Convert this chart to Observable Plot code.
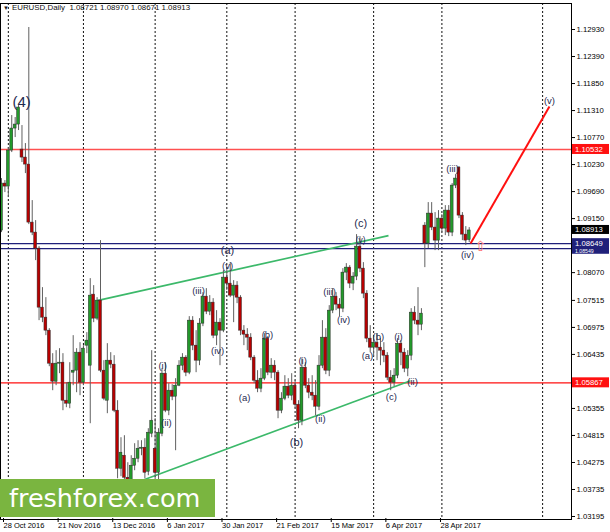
<!DOCTYPE html>
<html><head><meta charset="utf-8">
<script src="https://cdn.jsdelivr.net/npm/d3@7"></script>
<script src="https://cdn.jsdelivr.net/npm/@observablehq/plot@0.6"></script>
<style>
html,body{margin:0;padding:0;background:#fff;}
#wrap{position:relative;width:610px;height:532px;overflow:hidden;font-family:"Liberation Sans",Arial,sans-serif;}
#hdr{position:absolute;left:3px;top:3px;font-size:7.9px;color:#111;white-space:pre;line-height:10px;}
#hdr .tri{font-size:6px;margin-right:3px;}
#logo{position:absolute;left:0;top:479px;width:215px;height:38px;background:#7ab540;color:#fff;font-family:"DejaVu Sans",sans-serif;font-size:25.5px;line-height:38px;text-indent:9px;white-space:nowrap;}
</style></head><body><div id="wrap"></div>
<script>
// ---- Daily EURUSD bars (index 0 = 28 Oct 2016 ... 137 = 11 May 2017) ----
const open = [
1.0891,1.0985,1.0979,1.1051,1.1095,1.1103,1.1053,1.1037,1.1023,1.0907,
1.0887,1.0855,1.0737,1.0717,1.0691,1.0625,1.0589,1.0625,1.0627,1.0551,
1.0545,1.0607,1.0611,1.0647,1.0587,1.0661,1.0621,1.0763,1.0715,1.0751,
1.0611,1.0551,1.0631,1.0623,1.0531,1.0415,1.0441,1.0397,1.0391,1.0421,
1.0435,1.0455,1.0457,1.0409,1.0485,1.0455,1.0407,1.0485,1.0605,1.0531,
1.0571,1.0559,1.0581,1.0621,1.0637,1.0607,1.0711,1.0661,1.0631,1.0705,
1.0759,1.0729,1.0747,1.0681,1.0707,1.0691,1.0797,1.0785,1.0761,1.0781,
1.0757,1.0691,1.0683,1.0677,1.0637,1.0591,1.0575,1.0595,1.0675,1.0607,
1.0621,1.0607,1.0531,1.0555,1.0579,1.0561,1.0581,1.0543,1.0511,1.0617,
1.0581,1.0567,1.0561,1.0539,1.0621,1.0677,1.0611,1.0731,1.0759,1.0743,
1.0735,1.0807,1.0817,1.0785,1.0799,1.0859,1.0815,1.0765,1.0675,1.0657,
1.0667,1.0657,1.0651,1.0641,1.0597,1.0587,1.0601,1.0665,1.0647,1.0615,
1.0641,1.0727,1.0711,1.0703,1.0901,1.0865,1.0925,1.0897,1.0871,1.0915,
1.0895,1.0931,1.0887,1.0981,1.1017,1.0921,1.0883,1.08721];
const high = [
1.0995,1.0991,1.1057,1.1121,1.1117,1.1141,1.1101,1.1065,1.1297,1.0951,
1.0911,1.0859,1.0777,1.0757,1.0695,1.0645,1.0651,1.0655,1.0645,1.0587,
1.0627,1.0681,1.0655,1.0667,1.0661,1.0687,1.0795,1.0781,1.0757,1.0871,
1.0631,1.0665,1.0647,1.0641,1.0551,1.0477,1.0481,1.0427,1.0441,1.0465,
1.0471,1.0471,1.0475,1.0495,1.0651,1.0515,1.0495,1.0615,1.0627,1.0585,
1.0583,1.0595,1.0631,1.0645,1.0641,1.0719,1.0719,1.0691,1.0715,1.0767,
1.0775,1.0761,1.0755,1.0731,1.0715,1.0811,1.0815,1.0827,1.0791,1.0789,
1.0761,1.0701,1.0695,1.0685,1.0641,1.0611,1.0615,1.0685,1.0679,1.0635,
1.0631,1.0611,1.0567,1.0601,1.0595,1.0605,1.0591,1.0551,1.0635,1.0627,
1.0595,1.0601,1.0591,1.0641,1.0711,1.0695,1.0741,1.0775,1.0767,1.0755,
1.0815,1.0825,1.0821,1.0807,1.0883,1.0879,1.0827,1.0771,1.0701,1.0679,
1.0685,1.0675,1.0667,1.0647,1.0611,1.0615,1.0675,1.0671,1.0655,1.0651,
1.0735,1.0739,1.0777,1.0735,1.0907,1.0947,1.0947,1.0927,1.0931,1.0923,
1.0941,1.0941,1.0985,1.1003,1.1019,1.0927,1.0899,1.08970];
const low = [
1.0887,1.0967,1.0957,1.1047,1.1077,1.1091,1.1027,1.1005,1.0903,1.0881,
1.0831,1.0711,1.0707,1.0681,1.0619,1.0571,1.0581,1.0605,1.0531,1.0537,
1.0535,1.0581,1.0567,1.0561,1.0581,1.0645,1.0505,1.0707,1.0711,1.0607,
1.0551,1.0525,1.0615,1.0527,1.0395,1.0399,1.0391,1.0353,1.0375,1.0411,
1.0427,1.0441,1.0395,1.0401,1.0477,1.0347,1.0391,1.0479,1.0527,1.0521,
1.0551,1.0451,1.0579,1.0611,1.0599,1.0603,1.0651,1.0607,1.0621,1.0699,
1.0723,1.0721,1.0675,1.0661,1.0621,1.0687,1.0771,1.0757,1.0707,1.0745,
1.0681,1.0661,1.0651,1.0631,1.0585,1.0567,1.0567,1.0591,1.0601,1.0595,
1.0591,1.0515,1.0525,1.0551,1.0555,1.0551,1.0535,1.0495,1.0501,1.0575,
1.0555,1.0551,1.0521,1.0531,1.0615,1.0603,1.0599,1.0725,1.0731,1.0719,
1.0727,1.0791,1.0775,1.0771,1.0791,1.0807,1.0755,1.0667,1.0647,1.0639,
1.0631,1.0621,1.0627,1.0591,1.0571,1.0579,1.0595,1.0621,1.0607,1.0599,
1.0631,1.0703,1.0681,1.0691,1.0817,1.0855,1.0891,1.0851,1.0851,1.0887,
1.0881,1.0879,1.0879,1.0975,1.0915,1.0871,1.0861,1.08671];
const close = [
1.0985,1.0979,1.1051,1.1095,1.1103,1.1137,1.1037,1.1023,1.0907,1.0887,
1.0855,1.0737,1.0717,1.0691,1.0625,1.0589,1.0625,1.0627,1.0551,1.0545,
1.0587,1.0611,1.0647,1.0587,1.0655,1.0671,1.0761,1.0715,1.0751,1.0611,
1.0555,1.0631,1.0623,1.0531,1.0415,1.0447,1.0397,1.0387,1.0421,1.0435,
1.0455,1.0457,1.0407,1.0487,1.0511,1.0407,1.0487,1.0605,1.0531,1.0571,
1.0559,1.0581,1.0621,1.0637,1.0607,1.0711,1.0661,1.0631,1.0705,1.0759,
1.0729,1.0747,1.0681,1.0707,1.0691,1.0797,1.0785,1.0761,1.0781,1.0757,
1.0691,1.0683,1.0677,1.0637,1.0591,1.0575,1.0595,1.0675,1.0607,1.0621,
1.0607,1.0531,1.0555,1.0579,1.0561,1.0581,1.0543,1.0511,1.0617,1.0581,
1.0567,1.0561,1.0539,1.0621,1.0677,1.0611,1.0731,1.0759,1.0743,1.0735,
1.0807,1.0817,1.0785,1.0799,1.0859,1.0815,1.0765,1.0675,1.0657,1.0667,
1.0657,1.0651,1.0641,1.0597,1.0587,1.0601,1.0665,1.0647,1.0615,1.0641,
1.0727,1.0711,1.0703,1.0725,1.0865,1.0925,1.0897,1.0871,1.0915,1.0895,
1.0931,1.0887,1.0981,1.0995,1.0921,1.0883,1.0871,1.08913];

// ---- axes ----
const dateLabelIdx = [0,16,32,48,64,80,96,112,128];
const dateLabels = ["28 Oct 2016","21 Nov 2016","13 Dec 2016","6 Jan 2017","30 Jan 2017","21 Feb 2017","15 Mar 2017","6 Apr 2017","28 Apr 2017"];
const monthStartIdx = [2,24,45,66,86,109,129,158.5];
const priceTicks = [1.12930,1.12390,1.11850,1.11310,1.10770,1.10230,1.09690,1.09150,1.08070,1.07515,1.06975,1.06435,1.05355,1.04815,1.04275,1.03735,1.03195];

// ---- horizontal levels ----
const levelValues = [1.10532,1.08649,1.08549,1.05867];
const levelKinds = ["resistance","pivot","pivot","support"];
const tagValues = [1.10532,1.08913,1.08549,1.08649,1.05867];
const tagKinds = ["resistance","bid","pivotLow","pivot","support"];

// ---- trend lines (bar index, price) ----
const upperTrendIdx = [28.03,113.36];
const upperTrendPrice = [1.0751,1.0881];
const lowerTrendIdx = [37,119.8];
const lowerTrendPrice = [1.0381,1.0591];
const projectionIdx = [137.4,160.5];
const projectionPrice = [1.0865,1.1139];
const arrowIdx = [140.3];
const arrowPrice = [1.0859];

// ---- Elliott wave labels ----
const waveText = ["(4)","(i)","(ii)","(iii)","(iv)","(v)","(a)","(a)","(b)","(b)","(i)","(ii)","(iii)","(iv)","(v)","(c)","(a)","(b)","(c)","(i)","(ii)","(iii)","(iv)","(v)"];
const waveIdx = [5.9,47.2,48.3,57.7,63.3,66.2,66.2,71.2,77.9,86.4,88.2,93.4,96.1,100.2,105.2,105.2,107.2,110.4,114.2,116.3,120.4,132.1,136.5,160.5];
const wavePrice = [1.1147,1.0621,1.0507,1.0771,1.0651,1.0821,1.0851,1.0557,1.0683,1.0467,1.0631,1.0515,1.0769,1.0713,1.0871,1.0905,1.0641,1.0679,1.0559,1.0679,1.0589,1.1015,1.0843,1.1151];
const waveDegree = ["intermediate","minute","minute","minute","minute","minute","minor","minute","minute","minor","minute","minute","minute","minute","subminute","minor","minute","minute","minute","minute","minute","minute","minute","minute"];

// ---- build ----
const bars = open.map((o,i)=>({i, o, h:high[i], l:low[i], c:close[i]}));
const waves = waveText.map((t,k)=>({t, i:waveIdx[k], p:wavePrice[k], d:waveDegree[k]}));
const degreeSize = {intermediate:15, minor:11, minute:9.5, subminute:8.5};
const levelColor = {resistance:"#ff5050", pivot:"#20207a", support:"#ff1010", bid:"#000"};
const tagStyle = {
  resistance: {fill:"#ff1010", size:7.7, h:10, dy:0},
  support:    {fill:"#ff1010", size:7.7, h:10, dy:0},
  bid:        {fill:"#000",    size:7.7, h:9,  dy:-0.5},
  pivot:      {fill:"#20207a", size:7.7, h:10, dy:0},
  pivotLow:   {fill:"#20207a", size:5.2, h:6,  dy:2.6}
};
const levels = levelValues.map((v,k)=>({v, k:levelKinds[k]}));
const seg = (xs, ys) => [{x1:xs[0], y1:ys[0], x2:xs[1], y2:ys[1]}];
const labelOf = new Map(dateLabelIdx.map((d,k)=>[d, dateLabels[k]]));

const plot = Plot.plot({
  width: 610, height: 532,
  marginLeft: 0, marginRight: 39, marginTop: 3, marginBottom: 13,
  x: {domain: [-0.293, 166.96], axis: null},
  y: {domain: [1.03135, 1.13450], axis: null},
  style: {fontFamily: "Liberation Sans, Arial, sans-serif", background: "#fff", color: "#000", overflow: "visible"},
  marks: [
    Plot.ruleX(monthStartIdx, {stroke: "#111", strokeDasharray: "2,2", strokeWidth: 1}),
    Plot.ruleY(levels, {y: "v", stroke: d => levelColor[d.k], strokeWidth: d => d.k === "resistance" ? 1.6 : 1.2}),
    Plot.link(seg(upperTrendIdx, upperTrendPrice), {x1:"x1", y1:"y1", x2:"x2", y2:"y2", stroke: "#3cb96a", strokeWidth: 1.6}),
    Plot.link(seg(lowerTrendIdx, lowerTrendPrice), {x1:"x1", y1:"y1", x2:"x2", y2:"y2", stroke: "#3cb96a", strokeWidth: 1.6}),
    Plot.ruleX(bars, {x: "i", y1: "l", y2: "h", stroke: "#606060", strokeWidth: 1}),
    Plot.rect(bars, {x1: d => d.i - 0.42, x2: d => d.i + 0.42, y1: "o", y2: "c",
      fill: d => d.c >= d.o ? "#239a2b" : "#b80000", stroke: "#2a2a2a", strokeWidth: 0.5}),
    Plot.link(seg(projectionIdx, projectionPrice), {x1:"x1", y1:"y1", x2:"x2", y2:"y2", stroke: "#ff1010", strokeWidth: 2}),
    Plot.text(arrowIdx.map((v,k)=>({i:v, p:arrowPrice[k]})), {x:"i", y:"p", text: () => "⇧", fill: "#ff6f6f", fontSize: 14, fontFamily: "DejaVu Sans"}),
    Plot.text(waves, {x: "i", y: "p", text: "t", fontSize: d => degreeSize[d.d], fill: "#1f2a50"}),
    Plot.frame({stroke: "#000", strokeWidth: 1}),
    Plot.axisY(priceTicks, {anchor: "right", tickFormat: d3.format(".5f"), tickSize: 3, tickPadding: 2, fontSize: 7.7}),
    Plot.axisX(dateLabelIdx, {anchor: "bottom", tickSize: 4, tickPadding: 0, dy: -1, textAnchor: "start", dx: 2,
      tickFormat: d => labelOf.get(d), fontSize: 7.5})
  ]
});

const wrap = document.getElementById("wrap");
wrap.appendChild(plot);

// price tags on the right axis, positioned through the plot's y scale
const ys = plot.scale("y");
const svg = d3.select(plot);
const g = svg.append("g").attr("font-family", "Liberation Sans, Arial, sans-serif").attr("text-anchor", "start");
tagValues.forEach((v,k) => {
  const st = tagStyle[tagKinds[k]];
  const yy = ys.apply(v) + st.dy;
  g.append("rect").attr("x", 572).attr("y", yy - st.h / 2).attr("width", 37).attr("height", st.h).attr("fill", st.fill);
  g.append("text").attr("x", 575).attr("y", yy).attr("dy", "0.36em").attr("font-size", st.size)
    .attr("text-anchor", "start").attr("fill", "#fff").text(v.toFixed(5));
});

// header
const last = open.length - 1;
const hdr = document.createElement("div");
hdr.id = "hdr";
hdr.innerHTML = '<span class="tri">▼</span>EURUSD,Daily  ' +
  [open[last], high[last], low[last], close[last]].map(v => v.toFixed(5)).join(" ");
wrap.appendChild(hdr);

// watermark
const logo = document.createElement("div");
logo.id = "logo";
logo.textContent = "freshforex.com";
wrap.appendChild(logo);
</script>
</body></html>
